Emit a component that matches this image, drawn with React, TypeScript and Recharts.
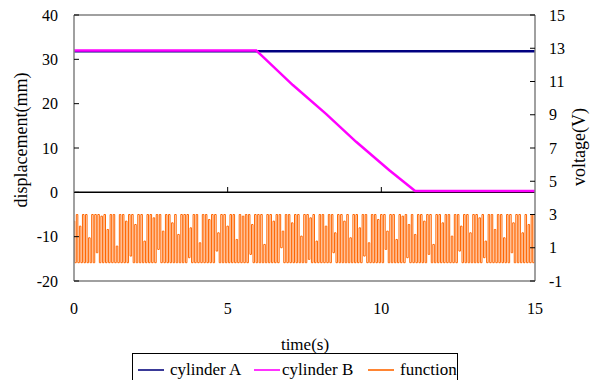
import React from 'react'
import { ComposedChart, Line, XAxis, YAxis, ReferenceLine, Legend } from 'recharts'

const FONT = '"Liberation Serif", "Times New Roman", "DejaVu Serif", serif'

// x axis (time, s)
const timeTicks = [0, 5, 10, 15]
// left axis (displacement, mm)
const dispTicks = [-20, -10, 0, 10, 20, 30, 40]
// right axis (voltage, V)
const voltTicks = [-1, 1, 3, 5, 7, 9, 11, 13, 15]

// cylinder A stays extended the whole run
const cylATime = [0, 15]
const cylAValue = [31.8, 31.8]

// cylinder B retracts between ~6 s and ~11 s
const cylBTime = [0, 5.93, 6.1, 7.12, 8.2, 9.18, 10.26, 11.1, 15]
const cylBValue = [32, 32, 30.9, 24.2, 17.7, 11.4, 5.0, 0.3, 0.3]

// function generator output, sampled every 0.05 s (V)
const FUNC_DT = 0.05
const funcValue = [
  2.6, 0.1, 3.0, 0.1, 2.3, 0.1, 3.0, 0.1, 3.0, 0.1, 1.6, 0.1, 3.0, 0.1, 3.0, 0.7, 3.0, 0.1, 2.9, 0.1,
  3.0, 0.1, 2.1, 0.1, 3.0, 0.1, 3.0, 0.1, 1.1, 0.1, 3.0, 0.1, 3.0, 0.1, 2.6, 0.1, 3.0, 0.5, 3.0, 0.1,
  2.4, 0.1, 3.0, 0.1, 3.0, 0.1, 1.4, 0.1, 3.0, 0.1, 3.0, 0.1, 2.8, 0.1, 3.0, 0.9, 3.0, 0.1, 2.0, 0.1,
  3.0, 0.1, 3.0, 0.1, 2.5, 0.1, 3.0, 0.1, 1.8, 0.1, 3.0, 0.1, 3.0, 0.1, 3.0, 0.4, 2.2, 0.1, 3.0, 0.1,
  3.0, 0.1, 1.3, 0.1, 3.0, 0.1, 3.0, 0.1, 2.7, 0.1, 3.0, 0.1, 3.0, 0.8, 1.9, 0.1, 3.0, 0.1, 3.0, 0.1,
  2.3, 0.1, 3.0, 0.1, 3.0, 0.1, 1.5, 0.1, 3.0, 0.1, 2.9, 0.1, 3.0, 0.1, 3.0, 0.6, 2.4, 0.1, 3.0, 0.1,
  3.0, 0.1, 3.0, 0.1, 1.2, 0.1, 3.0, 0.1, 3.0, 0.1, 2.6, 0.1, 3.0, 0.1, 3.0, 1.0, 2.0, 0.1, 3.0, 0.1,
  3.0, 0.1, 2.5, 0.1, 3.0, 0.1, 3.0, 0.1, 1.7, 0.1, 3.0, 0.1, 3.0, 0.3, 2.8, 0.1, 3.0, 0.1, 1.4, 0.1,
  3.0, 0.1, 3.0, 0.1, 2.3, 0.1, 3.0, 0.1, 3.0, 0.7, 1.9, 0.1, 3.0, 0.1, 3.0, 0.1, 2.6, 0.1, 3.0, 0.1,
  1.6, 0.1, 3.0, 0.1, 3.0, 0.1, 2.2, 0.1, 3.0, 0.5, 3.0, 0.1, 1.3, 0.1, 3.0, 0.1, 3.0, 0.1, 2.7, 0.1,
  3.0, 0.1, 3.0, 0.9, 2.0, 0.1, 3.0, 0.1, 3.0, 0.1, 1.5, 0.1, 3.0, 0.1, 2.9, 0.1, 3.0, 0.4, 2.4, 0.1,
  3.0, 0.1, 1.8, 0.1, 3.0, 0.1, 3.0, 0.1, 2.6, 0.1, 3.0, 0.6, 3.0, 0.1, 1.2, 0.1, 3.0, 0.1, 3.0, 0.1,
  2.5, 0.1, 3.0, 0.1, 3.0, 0.1, 1.7, 0.1, 3.0, 0.1, 3.0, 0.8, 2.3, 0.1, 3.0, 0.1, 3.0, 0.1, 1.9, 0.1,
  3.0, 0.1, 3.0, 0.1, 2.8, 0.1, 3.0, 0.4, 1.4, 0.1, 3.0, 0.1, 3.0, 0.1, 2.1, 0.1, 3.0, 0.1, 3.0, 0.1,
  1.6, 0.1, 3.0, 0.1, 3.0, 0.7, 2.5, 0.1, 3.0, 0.1, 3.0, 0.1, 1.9, 0.1, 3.0, 0.1, 2.4, 0.1, 3.0, 0.1,
  3.0,
]

const cylAData = cylATime.map((t, i) => ({ t, v: cylAValue[i] }))
const cylBData = cylBTime.map((t, i) => ({ t, v: cylBValue[i] }))
const funcData = funcValue.map((v, i) => ({ t: +(i * FUNC_DT).toFixed(2), v }))

const COLOR_A = '#000080'
const COLOR_B = '#ff00ff'
const COLOR_F = '#ff6600'

const legendItems = [
  { name: 'cylinder A', color: '#3a3a98', sw: 5, tx: 37 },
  { name: 'cylinder B', color: '#ff33ff', sw: 121, tx: 149 },
  { name: 'function', color: '#ff8533', sw: 235, tx: 267 },
]

const BoxLegend = () => (
  <div style={{ position: 'relative', boxSizing: 'border-box', width: 326, height: 30, border: '1px solid #000', background: '#fff', fontFamily: FONT, fontSize: 17, color: '#000' }}>
    {legendItems.map((it) => (
      <React.Fragment key={it.name}>
        <div style={{ position: 'absolute', left: it.sw, top: 15, width: 26, height: 1.5, background: it.color }} />
        <div style={{ position: 'absolute', left: it.tx, top: 5, lineHeight: '22px', whiteSpace: 'nowrap' }}>{it.name}</div>
      </React.Fragment>
    ))}
  </div>
)

const VLabel = ({ x, y, text }: { x: number; y: number; text: string }) => (
  <text x={x} y={y} transform={`rotate(-90 ${x} ${y})`} textAnchor="middle" dominantBaseline="central" fontFamily={FONT} fontSize={18} fill="#000">
    {text}
  </text>
)

const tickStyle = { fill: '#000', fontFamily: FONT, fontSize: 16 }

export default function App() {
  return (
    <div style={{ position: 'absolute', left: 0, top: 0, width: 594, height: 380, overflow: 'hidden', background: '#fff', fontFamily: FONT }}>
      <ComposedChart width={594} height={380} margin={{ top: 15, right: 0, bottom: 0, left: 0 }} style={{ fontFamily: FONT }}>
        <XAxis
          dataKey="t"
          type="number"
          domain={[0, 15]}
          ticks={timeTicks}
          allowDataOverflow
          axisLine={false}
          tickLine={false}
          tickSize={6}
          tickMargin={16}
          height={69}
          tick={tickStyle}
          label={{ content: () => <text x={305} y={344} textAnchor="middle" dominantBaseline="central" fontFamily={FONT} fontSize={17} fill="#000">time(s)</text> }}
        />
        <YAxis
          yAxisId="left"
          type="number"
          domain={[-20, 40]}
          ticks={dispTicks}
          width={74}
          axisLine={{ stroke: '#808080', strokeWidth: 1.5 }}
          tickLine={{ stroke: '#000' }}
          tickSize={-5}
          tickMargin={21}
          tick={tickStyle}
          label={{ content: () => <VLabel x={21} y={140} text="displacement(mm)" /> }}
        />
        <YAxis
          yAxisId="right"
          orientation="right"
          type="number"
          domain={[-1, 15]}
          ticks={voltTicks}
          width={59}
          axisLine={{ stroke: '#808080', strokeWidth: 1.5 }}
          tickLine={{ stroke: '#000' }}
          tickSize={-5}
          tickMargin={19}
          tick={{ ...tickStyle, textAnchor: 'start' }}
          label={{ content: () => <VLabel x={579} y={147} text="voltage(V)" /> }}
        />
        <ReferenceLine yAxisId="left" y={40} stroke="#808080" strokeWidth={1.5} />
        <ReferenceLine yAxisId="left" y={-20} stroke="#808080" strokeWidth={1.5} />
        <ReferenceLine yAxisId="left" y={0} stroke="#000" strokeWidth={1.5} />
        <ReferenceLine yAxisId="left" segment={[{ x: 5, y: 0 }, { x: 5, y: 1.2 }]} stroke="#000" />
        <ReferenceLine yAxisId="left" segment={[{ x: 10, y: 0 }, { x: 10, y: 1.2 }]} stroke="#000" />
        <Line
          yAxisId="right"
          type="step"
          data={funcData}
          dataKey="v"
          name="function"
          stroke={COLOR_F}
          strokeWidth={1}
          dot={false}
          activeDot={false}
          isAnimationActive={false}
        />
        <Line
          yAxisId="left"
          data={cylAData}
          dataKey="v"
          name="cylinder A"
          stroke={COLOR_A}
          strokeWidth={2.5}
          dot={false}
          activeDot={false}
          isAnimationActive={false}
        />
        <Line
          yAxisId="left"
          data={cylBData}
          dataKey="v"
          name="cylinder B"
          stroke={COLOR_B}
          strokeWidth={2.5}
          dot={false}
          activeDot={false}
          isAnimationActive={false}
        />
        <Legend content={<BoxLegend />} wrapperStyle={{ left: 132, top: 353, width: 326, height: 30 }} />
      </ComposedChart>
    </div>
  )
}
